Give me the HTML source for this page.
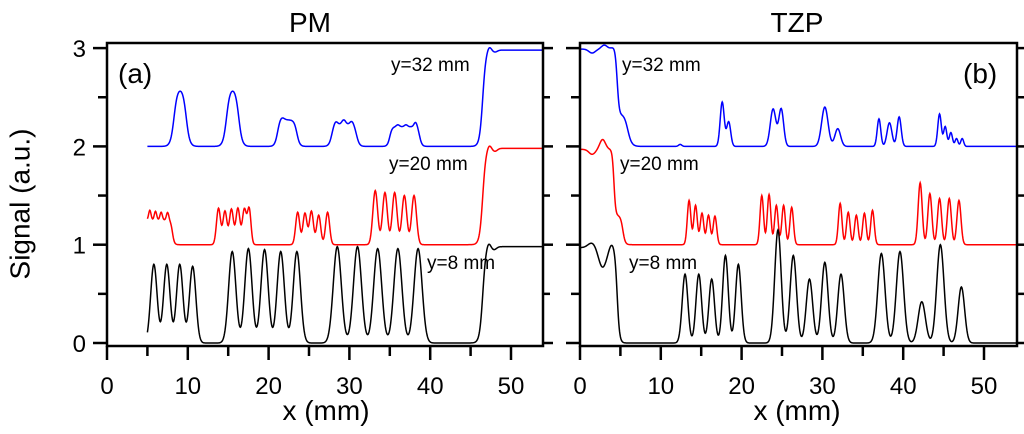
<!DOCTYPE html>
<html><head><meta charset="utf-8">
<style>
html,body{margin:0;padding:0;background:#fff;}
svg{display:block;font-family:"Liberation Sans",Arial,sans-serif;}
</style></head>
<body>
<svg id="chart" width="1024" height="434" viewBox="0 0 1024 434">
<text x="22" y="204" font-size="28" text-anchor="middle" transform="rotate(-90 22 204)" dominant-baseline="middle">Signal (a.u.)</text>
<text x="310" y="32" font-size="28" text-anchor="middle">PM</text>
<text x="797" y="32" font-size="28" text-anchor="middle">TZP</text>
<text x="326" y="420" font-size="28" text-anchor="middle">x (mm)</text>
<text x="797" y="420" font-size="28" text-anchor="middle">x (mm)</text>
<text x="118" y="83" font-size="28">(a)</text>
<text x="963" y="83" font-size="28">(b)</text>
<g id="plots"></g>
</svg>
<script>
// ---- data: x ticks, y ticks ----
const xTicks = [0, 10, 20, 30, 40, 50];
const yTicks = [0, 1, 2, 3];
const labelsPM = ["y=32 mm", "y=20 mm", "y=8 mm"];
const labelsTZP = ["y=32 mm", "y=20 mm", "y=8 mm"];
const offsets = [2, 1, 0];
// components: peaks [center, height, sigma]; boxes [x0, x1, height, edge]
// PM (left)
const pmBlackPeaks = [[5.8,0.8,0.4],[7.4,0.8,0.4],[9.0,0.8,0.4],[10.6,0.78,0.4],[15.5,0.93,0.45],[17.5,0.96,0.45],[19.5,0.95,0.45],[21.5,0.93,0.45],[23.5,0.93,0.45],[28.5,0.98,0.5],[31,0.98,0.5],[33.5,0.96,0.5],[36,0.96,0.5],[38.5,0.96,0.5],[47.2,0.05,0.25],[47.9,-0.03,0.3]];
const pmBlackBoxes = [[46.5,99,0.98,0.2]];
const pmRedPeaks = [[5.3,0.1,0.15],[6.0,0.09,0.15],[6.7,0.08,0.15],[7.5,0.08,0.15],[13.8,0.37,0.25],[14.6,0.34,0.25],[15.4,0.36,0.25],[16.2,0.37,0.25],[17.0,0.36,0.25],[17.6,0.36,0.22],[23.6,0.33,0.25],[24.5,0.32,0.25],[25.3,0.34,0.25],[26.2,0.3,0.25],[27.3,0.33,0.25],[33.2,0.55,0.3],[34.4,0.53,0.3],[35.6,0.53,0.3],[36.8,0.5,0.3],[38.0,0.5,0.3],[47.3,0.04,0.25],[48.0,-0.03,0.3]];
const pmRedBoxes = [[3,8.1,0.25,0.12],[46.5,99,0.98,0.2]];
const pmBluePeaks = [[21.6,0.03,0.3],[28.3,0.04,0.25],[29.3,0.05,0.25],[30.3,0.04,0.25],[36,0.02,0.2],[37,0.02,0.2],[38.2,0.05,0.2],[47.3,0.04,0.25],[48.0,-0.02,0.3]];
const pmBlueBoxes = [[8.3,9.8,0.6,0.22],[14.8,16.3,0.6,0.22],[21.1,23.5,0.27,0.18],[27.8,30.9,0.22,0.18],[35.0,38.7,0.2,0.15],[46.5,99,0.98,0.2]];
// TZP (right)
const tzBlackPeaks = [[1.5,0.05,0.5],[2.8,-0.2,0.5],[3.9,0.05,0.3],[13,0.7,0.35],[14.7,0.7,0.35],[16.3,0.65,0.35],[18,0.89,0.35],[19.6,0.8,0.35],[24.5,1.15,0.4],[26.4,0.89,0.4],[28.4,0.65,0.4],[30.3,0.82,0.4],[32.3,0.7,0.4],[37.3,0.91,0.45],[39.6,0.93,0.45],[42.3,0.42,0.45],[44.6,1.0,0.45],[47.2,0.57,0.4]];
const tzBlackBoxes = [[-5,4.6,0.97,0.15]];
const tzRedPeaks = [[1.5,-0.05,0.4],[2.8,0.1,0.35],[13.5,0.45,0.22],[14.3,0.4,0.22],[15.1,0.32,0.22],[15.9,0.3,0.22],[16.7,0.29,0.22],[22.5,0.5,0.22],[23.4,0.51,0.22],[24.3,0.4,0.22],[25.2,0.4,0.22],[26.2,0.38,0.22],[32.2,0.42,0.22],[33.2,0.33,0.22],[34.2,0.3,0.22],[35.2,0.32,0.22],[36.2,0.35,0.22],[42.1,0.63,0.25],[43.3,0.52,0.25],[44.5,0.47,0.25],[45.7,0.47,0.25],[46.9,0.45,0.25]];
const tzRedBoxes = [[-5,4.2,0.97,0.12],[4.2,5.3,0.3,0.15]];
const tzBluePeaks = [[1.5,-0.04,0.4],[3.0,0.04,0.35],[12.4,0.02,0.2],[17.6,0.45,0.25],[18.4,0.25,0.25],[23.9,0.38,0.35],[24.9,0.38,0.3],[30.3,0.4,0.4],[31.9,0.18,0.35],[37,0.28,0.22],[38.3,0.24,0.3],[39.5,0.3,0.25],[44.5,0.33,0.22],[45.2,0.2,0.2],[45.9,0.14,0.2],[46.6,0.08,0.18],[47.3,0.08,0.18]];
const tzBlueBoxes = [[-5,4.6,0.99,0.15],[4.6,5.9,0.35,0.25]];

const panels = [
  {name:"pm", x0:107, x1:543, xmin:5, labels:labelsPM, lx:[391,389,427],
   series:[["blue",pmBluePeaks,pmBlueBoxes,"#0000ff"],["red",pmRedPeaks,pmRedBoxes,"#ff0000"],["black",pmBlackPeaks,pmBlackBoxes,"#000000"]]},
  {name:"tzp", x0:580, x1:1017, xmin:0, labels:labelsTZP, lx:[622,620,629],
   series:[["blue",tzBluePeaks,tzBlueBoxes,"#0000ff"],["red",tzRedPeaks,tzRedBoxes,"#ff0000"],["black",tzBlackPeaks,tzBlackBoxes,"#000000"]]}
];
const TOP=43, BOT=346, PXMM=8.08;
const yS = v => 343 - v*98.3;
const labelY = [71, 170, 269];
const NS="http://www.w3.org/2000/svg";
const root=document.getElementById("plots");
function mk(tag, attrs, parent){const e=document.createElementNS(NS,tag);for(const k in attrs)e.setAttribute(k,attrs[k]);(parent||root).appendChild(e);return e;}
const sig = z => 1/(1+Math.exp(-z));
function val(x, peaks, boxes){
  let v=0;
  for(const p of peaks) v += p[1]*Math.exp(-((x-p[0])**2)/(2*p[2]*p[2]));
  for(const b of boxes) v += b[2]*(sig((x-b[0])/b[3]) - sig((x-b[1])/b[3]));
  return v;
}
panels.forEach((P,pi)=>{
  const xS = x => P.x0 + x*PXMM;
  const g=mk("g",{});
  
  
  const cid="clip"+pi;
  const cp=mk("clipPath",{id:cid},g);
  mk("rect",{x:P.x0,y:TOP,width:P.x1-P.x0,height:BOT-TOP},cp);
  P.series.forEach((s,si)=>{
    let d="";
    const xmax=(P.x1-P.x0)/PXMM;
    for(let x=P.xmin;x<=xmax+0.05;x+=0.05){
      const v=offsets[si]+val(x,s[1],s[2]);
      d+=(d?"L":"M")+xS(x).toFixed(2)+","+yS(v).toFixed(2);
    }
    const p=mk("path",{d:d,fill:"none",stroke:s[3],"stroke-width":1.5,"clip-path":"url(#"+cid+")"},g);
    
    
    const t=mk("text",{x:P.lx[si],y:labelY[si],"font-size":19},g);
    t.textContent=P.labels[si];
    
    
  });
  const fr=mk("rect",{x:P.x0,y:TOP,width:P.x1-P.x0,height:BOT-TOP,fill:"none",stroke:"#000","stroke-width":2.5},g);
  
  
  for(let x=0;x<=54;x+=5){
    mk("line",{x1:xS(x),x2:xS(x),y1:BOT,y2:BOT+(x%10===0?14:10),stroke:"#000","stroke-width":2.5},g);
  }
  xTicks.forEach(x=>{
    const t=mk("text",{x:xS(x),y:394,"font-size":24,"text-anchor":"middle"},g);
    t.textContent=x;
    
    
  });
  for(let v=0;v<=3.001;v+=0.5){
    const maj=Math.abs(v-Math.round(v))<1e-6;
    mk("line",{x1:P.x0-(maj?14:9),x2:P.x0,y1:yS(v),y2:yS(v),stroke:"#000","stroke-width":2.5},g);
    mk("line",{x1:P.x1,x2:P.x1+(maj?10:7),y1:yS(v),y2:yS(v),stroke:"#000","stroke-width":2.5},g);
  }
  if(pi===0){
    yTicks.forEach(v=>{
      const t=mk("text",{x:86,y:yS(v)+9,"font-size":24,"text-anchor":"end"},g);
      t.textContent=v;
      
      
    });
  }
});
</script>
</body></html>
